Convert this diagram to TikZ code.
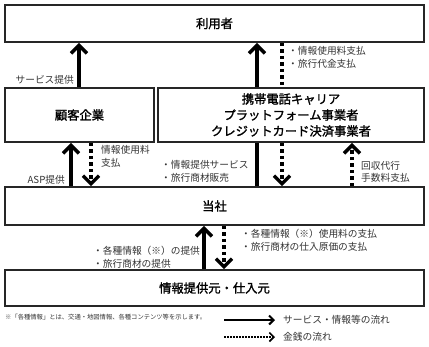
\documentclass[tikz,border=0pt]{standalone}
\usepackage{fontspec}
\newfontfamily\cjk{Noto Sans CJK JP}
\newfontfamily\cjkb[FakeBold=1.6]{Noto Sans CJK JP}
\usetikzlibrary{arrows.meta}
\begin{document}
\begin{tikzpicture}[x=1pt,y=-1pt,
  box/.style={draw=black!85, line width=1.6pt, inner sep=0pt, font=\cjkb\fontsize{12.3}{16}\selectfont, align=center},
  lbl/.style={inner sep=0pt, text=black!80, font=\cjk\fontsize{9.7}{12.5}\selectfont, align=left},
  flow/.style={line width=3.5pt, -{Straight Barb[length=8pt,width=16pt]}},
  flowline/.style={line width=3.5pt},
  money/.style={line width=3.5pt, dash pattern=on 3.5pt off 3pt, -{Straight Barb[length=8pt,width=16pt]}},
  moneyline/.style={line width=3.5pt, dash pattern=on 3.5pt off 3pt},
  lgflow/.style={line width=2pt, -{Straight Barb[length=4.5pt,width=9pt]}},
  lgmoney/.style={line width=1.6pt, dash pattern=on 1.6pt off 1.4pt, -{Straight Barb[length=4.5pt,width=9pt]}}
]
\useasboundingbox (0,0) rectangle (429,346);

\node[box, minimum width=419pt, minimum height=37pt] (user) at (214.5,23.5) {利用者};
\node[box, minimum width=149pt, minimum height=54pt] (kokyaku) at (79.5,115) {顧客企業};
\node[box, minimum width=266pt, minimum height=54pt] (carrier) at (291,115) {携帯電話キャリア\\プラットフォーム事業者\\クレジットカード決済事業者};
\node[box, minimum width=419pt, minimum height=38pt] (tosha) at (214.5,206) {当社};
\node[box, minimum width=419pt, minimum height=36pt] (source) at (214.5,288) {情報提供元・仕入元};

\coordinate (xa) at (79,0);
\coordinate (xb) at (257,0);
\coordinate (xc) at (282,0);
\coordinate (xd) at (71,0);
\coordinate (xe) at (91,0);
\coordinate (xf) at (352,0);
\coordinate (xg) at (204,0);
\coordinate (xh) at (224,0);

\draw[flow] (kokyaku.north -| xa) -- (user.south -| xa);
\draw[flow] (carrier.north -| xb) -- (user.south -| xb);
\draw[moneyline] (user.south -| xc) -- (carrier.north -| xc);

\draw[flow] (tosha.north -| xd) -- (kokyaku.south -| xd);
\draw[money] (kokyaku.south -| xe) -- (tosha.north -| xe);
\draw[flowline] (tosha.north -| xb) -- (carrier.south -| xb);
\draw[money] (carrier.south -| xc) -- (tosha.north -| xc);
\draw[money] (tosha.north -| xf) -- (carrier.south -| xf);

\draw[flow] (source.north -| xg) -- (tosha.south -| xg);
\draw[money] (tosha.south -| xh) -- (source.north -| xh);

\node[lbl, anchor=east] (l1) at (74,80) {サービス提供};
\node[lbl, anchor=west] (l2) at (288,57.5) {・情報使用料支払\\・旅行代金支払};
\node[lbl, anchor=west] (l3) at (101,156.5) {情報使用料\\支払};
\node[lbl, anchor=east] (l4) at (65,180) {ASP提供};
\node[lbl, anchor=west] (l5) at (161,171.5) {・情報提供サービス\\・旅行商材販売};
\node[lbl, anchor=west] (l6) at (361,172) {回収代行\\手数料支払};
\node[lbl, anchor=west] (l7) at (93,257) {・各種情報（※）の提供\\・旅行商材の提供};
\node[lbl, anchor=west] (l8) at (241,240) {・各種情報（※）使用料の支払\\・旅行商材の仕入原価の支払};

\node[inner sep=0pt, anchor=west, text=black!80, font=\cjk\fontsize{6.3}{8}\selectfont] (note) at (5,317) {※「各種情報」とは、交通・地図情報、各種コンテンツ等を示します。};

\coordinate (lgs1) at (224,320);
\coordinate (lge1) at (275,320);
\coordinate (lgs2) at (224,337);
\coordinate (lge2) at (275,337);
\draw[lgflow] (lgs1) -- (lge1);
\draw[lgmoney] (lgs2) -- (lge2);
\node[lbl, anchor=west] (lg1) at (283,320) {サービス・情報等の流れ};
\node[lbl, anchor=west] (lg2) at (283,337) {金銭の流れ};
\end{tikzpicture}
\end{document}
